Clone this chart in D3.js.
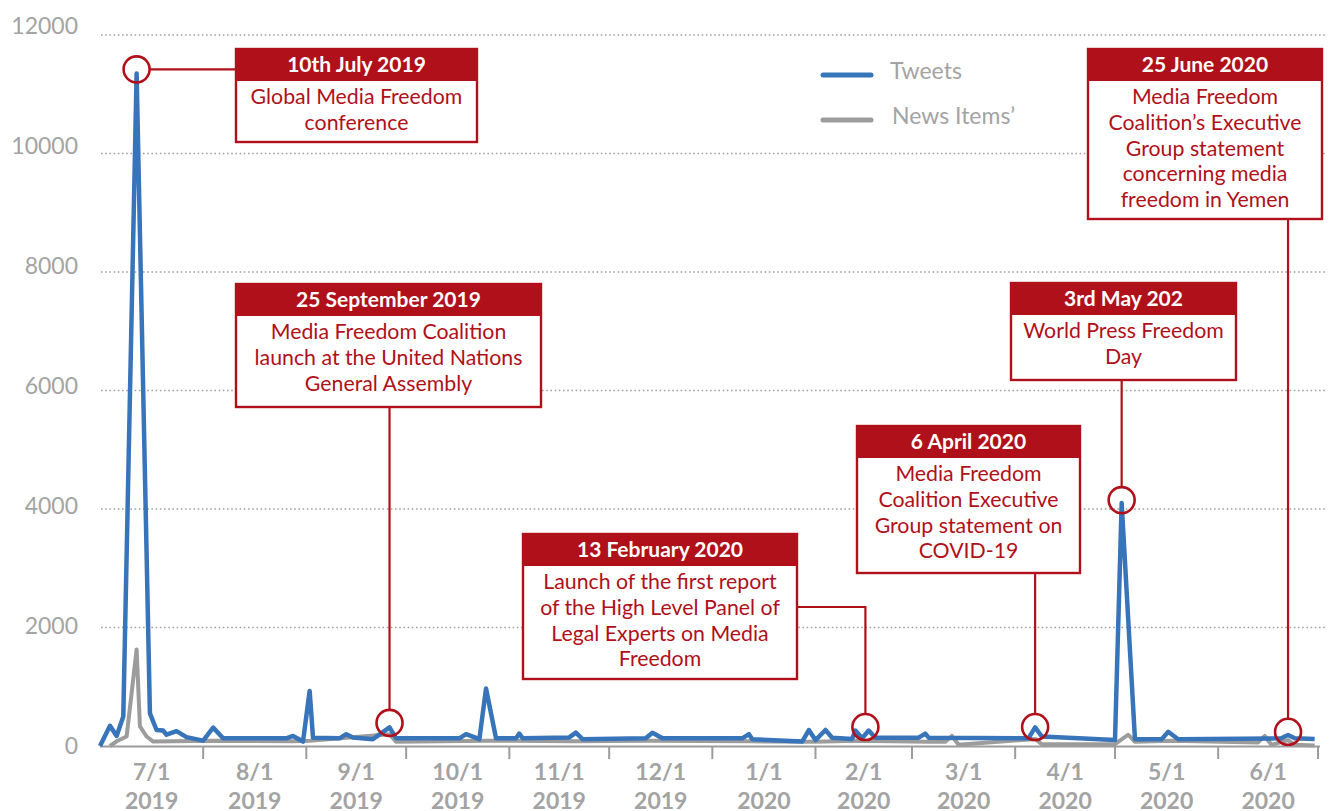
<!DOCTYPE html>
<html>
<head>
<meta charset="utf-8">
<script src="https://cdn.jsdelivr.net/npm/d3@7"></script>
<style>
  body { margin: 0; background: #fff; }
  svg { display: block; font-family: Lato, 'Open Sans', sans-serif; }
</style>
</head>
<body>
<div id="chart"></div>
<script>
// Tweets per day (blue line)
const tweetDates = ['2019-07-01','2019-07-04','2019-07-06','2019-07-08','2019-07-12','2019-07-16','2019-07-18','2019-07-20','2019-07-21','2019-07-24',
  '2019-07-27','2019-08-01','2019-08-04','2019-08-07','2019-08-26','2019-08-28','2019-08-31','2019-09-02','2019-09-03','2019-09-11',
  '2019-09-13','2019-09-15','2019-09-21','2019-09-26','2019-09-28','2019-10-17','2019-10-19','2019-10-23','2019-10-25','2019-10-28',
  '2019-11-03','2019-11-04','2019-11-05','2019-11-19','2019-11-21','2019-11-23','2019-12-12','2019-12-14','2019-12-17','2020-01-10',
  '2020-01-12','2020-01-13','2020-01-28','2020-01-30','2020-02-01','2020-02-04','2020-02-06','2020-02-12','2020-02-13','2020-02-15',
  '2020-02-17','2020-02-19','2020-03-03','2020-03-05','2020-03-06','2020-04-05','2020-04-07','2020-04-09','2020-05-01','2020-05-03',
  '2020-05-07','2020-05-15','2020-05-17','2020-05-20','2020-06-20','2020-06-22','2020-06-24','2020-06-30'];
const tweetValues = [0,340,170,500,11350,550,270,260,190,250,
  150,90,310,130,130,170,75,930,140,130,
  200,145,115,315,130,130,200,115,970,130,
  130,210,130,145,225,115,130,225,130,130,
  200,115,75,270,100,270,140,120,260,130,
  260,140,140,210,140,130,315,160,100,4100,
  115,115,240,115,130,185,130,120];

// News items per day (grey line)
const newsDates = ['2019-07-04','2019-07-06','2019-07-09','2019-07-12','2019-07-13','2019-07-15','2019-07-17','2019-08-04','2019-08-28','2019-09-02',
  '2019-09-26','2019-09-28','2019-10-25','2019-11-21','2019-12-14','2020-01-12','2020-02-01','2020-02-13','2020-03-06','2020-03-11',
  '2020-03-13','2020-03-15','2020-04-07','2020-04-09','2020-05-01','2020-05-05','2020-05-07','2020-05-18','2020-06-13','2020-06-15',
  '2020-06-17','2020-06-22','2020-06-24','2020-06-30'];
const newsValues = [0,80,160,1630,330,160,75,90,80,90,
  200,70,90,80,90,80,70,90,70,70,
  170,20,120,30,30,190,70,90,60,170,
  20,100,20,10];

const yTicks = [0, 2000, 4000, 6000, 8000, 10000, 12000];
const monthStarts = ['2019-07-01','2019-08-01','2019-09-01','2019-10-01','2019-11-01','2019-12-01',
  '2020-01-01','2020-02-01','2020-03-01','2020-04-01','2020-05-01','2020-06-01','2020-07-01'];

const seriesNames = ['Tweets', 'News Items\u2019'];

// Events: where the circle sits and what the box says
const eventDates = ['2019-07-12','2019-09-26','2020-02-16','2020-04-07','2020-05-03','2020-06-22'];
const eventValues = [11420, 390, 320, 320, 4150, 240];
const eventTitles = ['10th July 2019','25 September 2019','13 February 2020','6 April 2020','3rd May 202','25 June 2020'];
const eventTexts = [
  ['Global Media Freedom', 'conference'],
  ['Media Freedom Coalition', 'launch at the United Nations', 'General Assembly'],
  ['Launch of the first report', 'of the High Level Panel of', 'Legal Experts on Media', 'Freedom'],
  ['Media Freedom', 'Coalition Executive', 'Group statement on', 'COVID-19'],
  ['World Press Freedom', 'Day'],
  ['Media Freedom', 'Coalition\u2019s Executive', 'Group statement', 'concerning media', 'freedom in Yemen']
];

// box layout (pixels) and connector style for each event
const boxLayout = [
  { x: 236, y: 49, w: 241, h: 93, link: 'left' },
  { x: 236, y: 284, w: 305, h: 123, link: 'down' },
  { x: 523, y: 534, w: 274, h: 145, link: 'elbow', linkY: 607 },
  { x: 857, y: 426, w: 223, h: 147, link: 'down' },
  { x: 1011, y: 283, w: 225, h: 97, link: 'down' },
  { x: 1088, y: 49, w: 234, h: 170, link: 'down' }
];

const W = 1333, H = 811;
const RED = '#b0101a', BLUE = '#3874b9', GREY = '#9c9c9c', TXT = '#a3a3a3';
const parse = d3.utcParse('%Y-%m-%d');

const svg = d3.select('#chart').append('svg')
  .attr('width', W).attr('height', H);

const x = d3.scaleUtc()
  .domain([parse('2019-07-01'), parse('2020-07-01')])
  .range([100, 1318]);
const y = d3.scaleLinear().domain([0, 12000]).range([746, 35]);
// the value labels sit on a slightly taller span than the gridlines
const yLabel = d3.scaleLinear().domain([0, 12000]).range([746, 26]);

// dotted gridlines
svg.append('g').selectAll('line')
  .data(yTicks.filter(d => d > 0))
  .join('line')
  .attr('x1', 101).attr('x2', 1325)
  .attr('y1', d => y(d)).attr('y2', d => y(d))
  .attr('stroke', '#a0a0a0')
  .attr('stroke-width', 1.6)
  .attr('stroke-dasharray', '1.6,2.6');

// y labels
svg.append('g').selectAll('text')
  .data(yTicks)
  .join('text')
  .attr('x', 78)
  .attr('y', d => yLabel(d))
  .attr('dy', '0.35em')
  .attr('text-anchor', 'end')
  .style('font-size', '23px')
  .style('fill', TXT)
  .text(d => d);

// x axis: month boundaries as ticks, labels centred in each month
const months = monthStarts.map(parse);
const xAxis = svg.append('g').attr('class', 'x-axis');
xAxis.append('line')
  .attr('x1', 100).attr('x2', 1320)
  .attr('y1', 746.5).attr('y2', 746.5)
  .attr('stroke', GREY).attr('stroke-width', 2.2);
xAxis.selectAll('.tick')
  .data(months.slice(1))
  .join('line')
  .attr('class', 'tick')
  .attr('x1', d => x(d)).attr('x2', d => x(d))
  .attr('y1', 746).attr('y2', 759)
  .attr('stroke', GREY).attr('stroke-width', 2);

const labelGroups = xAxis.selectAll('.mlabel')
  .data(months.slice(0, -1))
  .join('text')
  .attr('class', 'mlabel')
  .attr('text-anchor', 'middle')
  .style('font-size', '23px')
  .style('font-weight', 'bold')
  .style('fill', TXT);
labelGroups.each(function(d, i) {
  const cx = (x(d) + x(months[i + 1])) / 2;
  const t = d3.select(this);
  t.append('tspan').attr('x', cx).attr('y', 780)
    .text(`${d.getUTCMonth() + 1}/${d.getUTCDate()}`);
  t.append('tspan').attr('x', cx).attr('y', 809)
    .text(d.getUTCFullYear());
});

// series
const tweets = tweetDates.map((d, i) => ({ date: parse(d), value: tweetValues[i] }));
const news = newsDates.map((d, i) => ({ date: parse(d), value: newsValues[i] }));
const line = d3.line().x(d => x(d.date)).y(d => y(d.value));

svg.append('path')
  .datum(news)
  .attr('d', line)
  .attr('fill', 'none')
  .attr('stroke', GREY)
  .attr('stroke-width', 4)
  .attr('stroke-linejoin', 'round');

svg.append('path')
  .datum(tweets)
  .attr('d', line)
  .attr('fill', 'none')
  .attr('stroke', BLUE)
  .attr('stroke-width', 4.5)
  .attr('stroke-linejoin', 'round');

// legend
const legend = svg.append('g').attr('class', 'legend');
[BLUE, GREY].forEach((c, i) => {
  const ly = 75 + i * 45;
  legend.append('line')
    .attr('x1', 823).attr('x2', 871)
    .attr('y1', ly).attr('y2', ly)
    .attr('stroke', c).attr('stroke-width', 5)
    .attr('stroke-linecap', 'round');
  legend.append('text')
    .attr('x', 890 + i * 2).attr('y', ly - 4)
    .attr('dy', '0.35em')
    .style('font-size', '23px')
    .style('fill', TXT)
    .text(seriesNames[i]);
});

// annotations
const R = 13;
const ann = svg.append('g').attr('class', 'annotations');
eventDates.forEach((d, i) => {
  const cx = x(parse(d)), cy = y(eventValues[i]);
  const b = boxLayout[i];
  const g = ann.append('g');

  // connector
  let path;
  if (b.link === 'left') {
    path = `M${cx + R},${cy} H${b.x}`;
  } else if (b.link === 'elbow') {
    path = `M${b.x + b.w},${b.linkY} H${cx} V${cy - R}`;
  } else {
    path = `M${cx},${b.y + b.h} V${cy - R}`;
  }
  g.append('path')
    .attr('d', path)
    .attr('fill', 'none')
    .attr('stroke', RED)
    .attr('stroke-width', 2.2);

  g.append('circle')
    .attr('cx', cx).attr('cy', cy).attr('r', R)
    .attr('fill', 'none')
    .attr('stroke', RED)
    .attr('stroke-width', 2.6);

  // box with filled header
  const headH = 32;
  g.append('rect')
    .attr('x', b.x).attr('y', b.y)
    .attr('width', b.w).attr('height', b.h)
    .attr('fill', '#fff')
    .attr('stroke', RED).attr('stroke-width', 2.4);
  g.append('rect')
    .attr('x', b.x).attr('y', b.y)
    .attr('width', b.w).attr('height', headH)
    .attr('fill', RED);
  g.append('text')
    .attr('x', b.x + b.w / 2).attr('y', b.y + headH / 2)
    .attr('dy', '0.35em')
    .attr('text-anchor', 'middle')
    .style('font-size', '21px')
    .style('font-weight', 'bold')
    .style('fill', '#fff')
    .text(eventTitles[i]);
  g.append('g').selectAll('text')
    .data(eventTexts[i])
    .join('text')
    .attr('x', b.x + b.w / 2)
    .attr('y', (t, j) => b.y + headH + 16 + j * 25.6)
    .attr('dy', '0.35em')
    .attr('text-anchor', 'middle')
    .style('font-size', '21.3px')
    .style('fill', RED)
    .text(t => t);
});
</script>
</body>
</html>
